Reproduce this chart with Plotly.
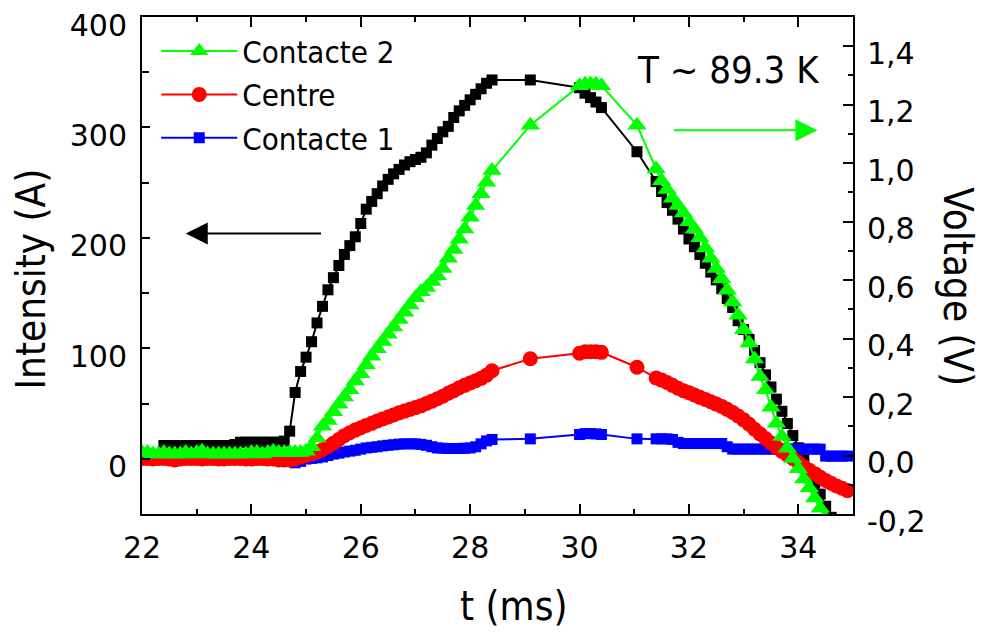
import plotly.graph_objects as go

# ---------------- data ----------------
t_ms = [22.0, 22.1, 22.2, 22.3, 22.4, 22.5, 22.6, 22.7, 22.8, 22.9,
        23.0, 23.1, 23.2, 23.3, 23.4, 23.5, 23.6, 23.7, 23.8, 23.9,
        24.0, 24.1, 24.2, 24.3, 24.4, 24.5, 24.6, 24.7, 24.8, 24.9,
        25.0, 25.1, 25.2, 25.3, 25.4, 25.5, 25.6, 25.7, 25.8, 25.9,
        26.0, 26.1, 26.2, 26.3, 26.4, 26.5, 26.6, 26.7, 26.8, 26.9,
        27.0, 27.1, 27.2, 27.3, 27.4, 27.5, 27.6, 27.7, 27.8, 27.9,
        28.0, 28.1, 28.2, 28.3, 28.4,
        29.1, 30.0, 30.1, 30.2, 30.3, 30.4, 31.05, 31.4,
        31.5, 31.6, 31.7, 31.8, 31.9,
        32.0, 32.1, 32.2, 32.3, 32.4, 32.5, 32.6, 32.7, 32.8, 32.9,
        33.0, 33.1, 33.2, 33.3, 33.4, 33.5, 33.6, 33.7, 33.8, 33.9,
        34.0, 34.1, 34.2, 34.3, 34.4, 34.5, 34.6, 34.7, 34.8, 34.9]

# Intensity (A), left axis
intensity = [None, None, None, None, 12, 12, 12, 11, 12, 12,
             12, 12, 12, 12, 12, 12, 12, 13, 15, 15,
             15, 15, 15, 15, 15, 15, 16, 25, 60, 79,
             92, 106, 123, 138, 153, 164, 175, 185, 193, 201,
             213, 226, 233, 240, 247, 253, 258, 262, 266, 269,
             271, 273, 277, 284, 290, 296, 301, 309, 315, 320,
             325, 330, 335, 340, 343,
             343, 336, 331, 327, 323, 318, 278, 251,
             242, 232, 225, 217, 208,
             199, 192, 185, 177, 169, 162, 154, 145, 137, 125,
             117, 108, 98, 87, 76, 65, 54, 43, 32, 21,
             10, -1, -12, -22, -32, -43, -53, None, None, None]

# Voltages (V), right axis
contacte2 = [0.01, 0.01, 0.005, 0.005, 0.01, 0.005, 0.005, 0.005, 0.01, 0.005,
             0.01, 0.015, 0.005, 0.005, 0.005, 0.005, 0.005, 0.005, 0.005, 0.005,
             0.01, 0.01, 0.005, 0.01, 0.015, 0.01, 0.01, 0.01, 0.01, 0.01,
             0.015, 0.03, 0.06, 0.1, 0.12, 0.15, 0.175, 0.2, 0.225, 0.255,
             0.28, 0.31, 0.34, 0.365, 0.39, 0.415, 0.44, 0.465, 0.49, 0.515,
             0.54, 0.56, 0.575, 0.595, 0.615, 0.64, 0.675, 0.705, 0.74, 0.775,
             0.815, 0.855, 0.895, 0.935, 0.975,
             1.13, 1.265, 1.27, 1.27, 1.27, 1.265, 1.13, 0.98,
             0.94, 0.91, 0.88, 0.855, 0.83,
             0.8, 0.775, 0.745, 0.71, 0.675, 0.64, 0.605, 0.565, 0.525, 0.48,
             0.43, 0.385, 0.33, 0.27, 0.225, 0.165, 0.11, 0.065, 0.025, -0.01,
             -0.045, -0.08, -0.11, -0.145, -0.18, -0.215, None, None, None, None]

centre = [-0.01, -0.01, -0.012, -0.01, -0.01, -0.012, -0.015, -0.012, -0.01, -0.01,
          -0.01, -0.012, -0.01, -0.01, -0.012, -0.012, -0.01, -0.01, -0.01, -0.012,
          -0.012, -0.01, -0.01, -0.012, -0.012, -0.015, -0.015, -0.015, -0.012, -0.005,
          0.0, 0.005, 0.012, 0.02, 0.03, 0.042, 0.055, 0.068, 0.078, 0.087,
          0.095, 0.103, 0.11, 0.118, 0.125, 0.132, 0.139, 0.146, 0.152, 0.158,
          0.164, 0.17, 0.178, 0.186, 0.194, 0.203, 0.213, 0.222, 0.232, 0.24,
          0.248, 0.256, 0.264, 0.275, 0.29,
          0.331, 0.35, 0.355, 0.355, 0.355, 0.353, 0.302, 0.265,
          0.258, 0.25, 0.24, 0.23, 0.222,
          0.215, 0.207, 0.199, 0.192, 0.184, 0.176, 0.168, 0.158, 0.147, 0.135,
          0.122, 0.107, 0.09, 0.074, 0.058, 0.043, 0.028, 0.014, 0.002, -0.01,
          -0.024, -0.038, -0.05, -0.062, -0.074, -0.085, -0.095, -0.104, -0.112, -0.12]

contacte1 = [-0.012, -0.012, -0.012, -0.012, -0.012, -0.012, -0.012, -0.012, -0.012, -0.012,
             -0.012, -0.012, -0.012, -0.012, -0.012, -0.012, -0.012, -0.012, -0.012, -0.012,
             -0.012, -0.012, -0.012, -0.012, -0.012, -0.012, -0.012, -0.012, -0.025, -0.02,
             -0.012, -0.01, -0.008, -0.005, 0.0, 0.005, 0.008, 0.012, 0.015, 0.018,
             0.022, 0.026, 0.028, 0.03, 0.033, 0.035, 0.037, 0.039, 0.04, 0.04,
             0.04, 0.038, 0.035, 0.03, 0.026, 0.025, 0.024, 0.024, 0.024, 0.025,
             0.026, 0.03, 0.04, 0.05, 0.055,
             0.057, 0.072, 0.075, 0.075, 0.074, 0.072, 0.057, 0.057,
             0.057, 0.057, 0.055, 0.045, 0.041,
             0.041, 0.041, 0.041, 0.041, 0.041, 0.041, 0.041, 0.03, 0.022, 0.022,
             0.022, 0.022, 0.022, 0.022, 0.022, 0.022, 0.022, 0.022, 0.022, 0.022,
             0.022, 0.022, 0.022, 0.022, 0.022, -0.002, -0.002, -0.002, -0.002, -0.002]

for s in (intensity, contacte2, centre, contacte1):
    assert len(s) == len(t_ms), len(s)

volt_tickvals = [-0.2, 0.0, 0.2, 0.4, 0.6, 0.8, 1.0, 1.2, 1.4]
volt_ticktext = ["-0,2", "0,0", "0,2", "0,4", "0,6", "0,8", "1,0", "1,2", "1,4"]

BLACK = "#000000"
GREEN = "#00ff00"
RED = "#ff0000"
BLUE = "#0000ff"
FONT = "DejaVu Sans"
CFONT = "DejaVu Sans Condensed, DejaVu Sans"

fig = go.Figure()

fig.add_trace(go.Scatter(x=t_ms, y=contacte1, name="Contacte 1", yaxis="y2",
                         mode="lines+markers",
                         line=dict(color=BLUE, width=2),
                         marker=dict(symbol="square", size=11, color=BLUE)))
fig.add_trace(go.Scatter(x=t_ms, y=centre, name="Centre", yaxis="y2",
                         mode="lines+markers",
                         line=dict(color=RED, width=2),
                         marker=dict(symbol="circle", size=15, color=RED)))
fig.add_trace(go.Scatter(x=t_ms, y=intensity, name="Intensity", yaxis="y",
                         mode="lines+markers", showlegend=False,
                         line=dict(color=BLACK, width=2),
                         marker=dict(symbol="square", size=11, color=BLACK)))
fig.add_trace(go.Scatter(x=t_ms, y=contacte2, name="Contacte 2", yaxis="y2",
                         mode="lines+markers",
                         line=dict(color=GREEN, width=2),
                         marker=dict(symbol="triangle-up", size=17, color=GREEN)))

axis_common = dict(showline=True, linewidth=2, linecolor=BLACK, showgrid=False,
                   zeroline=False, ticks="inside", tickwidth=2, tickcolor=BLACK,
                   automargin=False)

fig.update_layout(
    width=981, height=635,
    margin=dict(l=142, r=128, t=17, b=121, autoexpand=False),
    paper_bgcolor="white", plot_bgcolor="white",
    font=dict(family=FONT, size=30, color=BLACK),
    legend=dict(x=0.02, y=0.985, xanchor="left", yanchor="top",
                bgcolor="rgba(0,0,0,0)", traceorder="reversed",
                font=dict(family=CFONT, size=31), itemwidth=76),
    xaxis=dict(range=[22, 35], tick0=22, dtick=2, ticklen=10, mirror="ticks",
               ticklabelstandoff=6,
               minor=dict(dtick=1, ticks="inside", ticklen=5, tickwidth=2, tickcolor=BLACK),
               **axis_common),
    yaxis=dict(range=[-50, 400], dtick=100, ticklen=8, ticklabelstandoff=7,
               ticklabelshift=8,
               minor=dict(dtick=50, ticks="inside", ticklen=7, tickwidth=2, tickcolor=BLACK),
               **axis_common),
    yaxis2=dict(range=[-0.2, 1.5], overlaying="y", side="right", ticklen=10,
                tickvals=volt_tickvals, ticktext=volt_ticktext, ticklabelstandoff=6,
                ticklabelshift=7,
                minor=dict(dtick=0.1, ticks="inside", ticklen=5, tickwidth=2, tickcolor=BLACK),
                **axis_common),
)

fig.add_annotation(text="t (ms)", xref="paper", yref="paper",
                   x=0.522, y=-0.185, xanchor="center", yanchor="middle",
                   showarrow=False, font=dict(family=CFONT, size=40))
fig.add_annotation(text="Intensity (A)", xref="paper", yref="paper",
                   x=-0.156, y=0.472, xanchor="center", yanchor="middle",
                   textangle=-90, showarrow=False,
                   font=dict(family=CFONT, size=40))
fig.add_annotation(text="Voltage (V)", xref="paper", yref="paper",
                   x=1.1477, y=0.458, xanchor="center", yanchor="middle",
                   textangle=90, showarrow=False,
                   font=dict(family=CFONT, size=40))
fig.add_annotation(text="T ~ 89.3 K", xref="x", yref="y", x=32.72, y=352,
                   xanchor="center", yanchor="middle",
                   showarrow=False, font=dict(family=CFONT, size=38))
fig.add_annotation(text="", xref="x", yref="y", x=22.8, y=204,
                   axref="x", ayref="y", ax=25.3, ay=204,
                   showarrow=True, arrowhead=2, arrowsize=2.2, arrowwidth=2,
                   arrowcolor=BLACK)
fig.add_annotation(text="", xref="x", yref="y2", x=34.35, y=1.113,
                   axref="x", ayref="y2", ax=31.7, ay=1.113,
                   showarrow=True, arrowhead=2, arrowsize=2.2, arrowwidth=2,
                   arrowcolor=GREEN)

fig.write_html("out.html", config={"displayModeBar": False},
               post_script="document.body.style.margin='0px';")
